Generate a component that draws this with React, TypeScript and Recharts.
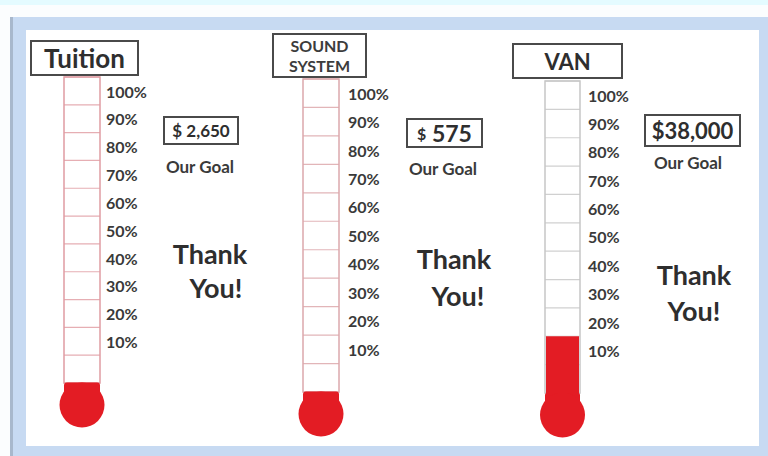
import React from 'react';
import { BarChart, Bar, XAxis, YAxis, CartesianGrid } from 'recharts';

// ---- data ----
const campaigns = ['Tuition', 'SOUND SYSTEM', 'VAN'];
const goalLabels = ['$ 2,650', '$ 575', '$38,000'];
const raisedPercent = [0, 0, 10];
const percentTicks = [0, 10, 20, 30, 40, 50, 60, 70, 80, 90, 100];
const goalCaption = 'Our Goal';
const thanksLines = ['Thank', 'You!'];

// ---- style / layout ----
const RED = '#e31c24';
const TEXT = '#2e2e2e';
const FONT = 'Lato, "Open Sans", sans-serif';

type Box = { l: number; t: number; w: number; h: number };
type Layout = {
  tubeX: number; tubeW: number; tubeTop: number; tubeBottom: number;
  title: Box; titleFont: number; goal: Box; goalFont: number; dollarFont: number;
  ourGoal: [number, number]; thank: [number, number]; you: [number, number];
  tickOffset: number; tubeColor: string; gridColor: string;
};

const layouts: Layout[] = [
  {
    tubeX: 64, tubeW: 36, tubeTop: 77, tubeBottom: 383,
    title: { l: 30, t: 40, w: 109, h: 36 }, titleFont: 26,
    goal: { l: 163, t: 116, w: 76, h: 29 }, goalFont: 17, dollarFont: 17,
    ourGoal: [200, 166], thank: [210, 253], you: [216, 287],
    tickOffset: 6, tubeColor: '#df9ca2', gridColor: '#e6aeb3',
  },
  {
    tubeX: 303, tubeW: 36, tubeTop: 79, tubeBottom: 392,
    title: { l: 272, t: 33, w: 95, h: 45 }, titleFont: 16,
    goal: { l: 406, t: 118, w: 77, h: 30 }, goalFont: 23, dollarFont: 16,
    ourGoal: [443, 168], thank: [454, 258], you: [458, 295],
    tickOffset: 9, tubeColor: '#dba8ac', gridColor: '#e2b5b8',
  },
  {
    tubeX: 545, tubeW: 35, tubeTop: 81, tubeBottom: 393,
    title: { l: 512, t: 43, w: 111, h: 36 }, titleFont: 22,
    goal: { l: 644, t: 114, w: 97, h: 33 }, goalFont: 22, dollarFont: 22,
    ourGoal: [688, 162], thank: [694, 274], you: [694, 310],
    tickOffset: 8, tubeColor: '#c6c6c6', gridColor: '#d0d0d0',
  },
];

const M = { top: 6, right: 4, bottom: 52, left: 14 };
const AXIS_W = 60;

function Thermometer({ i }: { i: number }) {
  const L = layouts[i];
  const plotH = L.tubeBottom - L.tubeTop;
  const W = M.left + L.tubeW + AXIS_W + M.right;
  const H = M.top + plotH + M.bottom;
  const plotBottom = M.top + plotH;
  const data = [{ name: campaigns[i], raised: raisedPercent[i] }];

  const Tube = (p: any) => {
    const { x, y, width, height } = p;
    const cx = x + width / 2;
    const by = y + height;
    return (
      <g>
        <rect x={x} y={y} width={width} height={height} fill="none" stroke={L.tubeColor} strokeWidth={1.5} />
        <rect x={x} y={by - 0.5} width={width} height={23} rx={3} fill={RED} />
        <circle cx={cx} cy={by + 22} r={22.5} fill={RED} />
      </g>
    );
  };

  const Fill = (p: any) => {
    const v = p.payload ? p.payload.raised : 0;
    if (!v || v <= 0) return <g />;
    return <rect x={p.x + 1} y={p.y} width={p.width - 2} height={plotBottom - p.y + 1} fill={RED} />;
  };

  const PctTick = (p: any) => {
    const { x, y, payload } = p;
    if (payload.value <= 0) return <g />;
    return (
      <text x={x} y={y + 15} dy="0.35em" textAnchor="start" fontFamily={FONT} fontWeight={700} fontSize={16} fill="#3a3a3a">
        {payload.value}%
      </text>
    );
  };

  return (
    <div style={{ position: 'absolute', left: L.tubeX - M.left, top: L.tubeTop - M.top }}>
      <BarChart width={W} height={H} data={data} margin={M} barCategoryGap={0} barGap={0}>
        <CartesianGrid vertical={false} stroke={L.gridColor} strokeWidth={1.2} />
        <XAxis dataKey="name" type="category" hide />
        <YAxis
          orientation="right"
          type="number"
          domain={[-10, 100]}
          ticks={percentTicks}
          interval={0}
          width={AXIS_W}
          axisLine={false}
          tickLine={false}
          tickSize={0}
          tickMargin={L.tickOffset}
          tick={PctTick}
          allowDataOverflow
        />
        <Bar dataKey="raised" isAnimationActive={false} background={Tube} shape={Fill} fill={RED} />
      </BarChart>
    </div>
  );
}

function Annotations({ i }: { i: number }) {
  const L = layouts[i];
  const goal = goalLabels[i];
  const dollar = goal.charAt(0);
  const amount = goal.slice(1);
  const center = (c: [number, number]): React.CSSProperties => ({
    position: 'absolute', left: c[0], top: c[1], transform: 'translate(-50%, -50%)', whiteSpace: 'nowrap',
  });
  const boxStyle = (b: Box): React.CSSProperties => ({
    position: 'absolute', left: b.l, top: b.t, width: b.w, height: b.h, boxSizing: 'border-box',
    border: '2px solid #4a4a4a', background: '#fff', display: 'flex', alignItems: 'center',
    justifyContent: 'center', textAlign: 'center', fontFamily: FONT, fontWeight: 700, color: TEXT,
  });
  return (
    <>
      <div style={{ ...boxStyle(L.title), fontSize: L.titleFont, lineHeight: i === 1 ? '20px' : 'normal', color: i === 1 ? '#3c3c3c' : TEXT }}>
        <span style={{ display: 'block', width: i === 1 ? 70 : 'auto' }}>{campaigns[i]}</span>
      </div>
      <div style={{ ...boxStyle(L.goal), fontSize: L.goalFont }}>
        <span style={{ fontSize: L.dollarFont }}>{dollar}</span>
        <span style={{ whiteSpace: 'pre' }}>{amount}</span>
      </div>
      <div style={{ ...center(L.ourGoal), fontFamily: FONT, fontWeight: 700, fontSize: 17, color: '#3a3a3a' }}>{goalCaption}</div>
      <div style={{ ...center(L.thank), fontFamily: FONT, fontWeight: 700, fontSize: 27, color: TEXT }}>{thanksLines[0]}</div>
      <div style={{ ...center(L.you), fontFamily: FONT, fontWeight: 700, fontSize: 27, color: TEXT }}>{thanksLines[1]}</div>
    </>
  );
}

export default function App() {
  return (
    <div style={{ position: 'absolute', left: 0, top: 0, width: 768, height: 456, background: '#fbfdfe', overflow: 'hidden' }}>
      <div style={{ position: 'absolute', left: 0, top: 0, width: 768, height: 5, background: '#e4fbff' }} />
      <div style={{ position: 'absolute', left: 10, top: 17, width: 758, height: 439, background: '#c7daf2' }} />
      <div style={{ position: 'absolute', left: 10, top: 17, width: 3, height: 439, background: '#a8b8cc' }} />
      <div style={{ position: 'absolute', left: 26, top: 30, width: 733, height: 416, background: '#ffffff' }} />
      {campaigns.map((_, i) => <Thermometer key={'t' + i} i={i} />)}
      {campaigns.map((_, i) => <Annotations key={'a' + i} i={i} />)}
    </div>
  );
}
